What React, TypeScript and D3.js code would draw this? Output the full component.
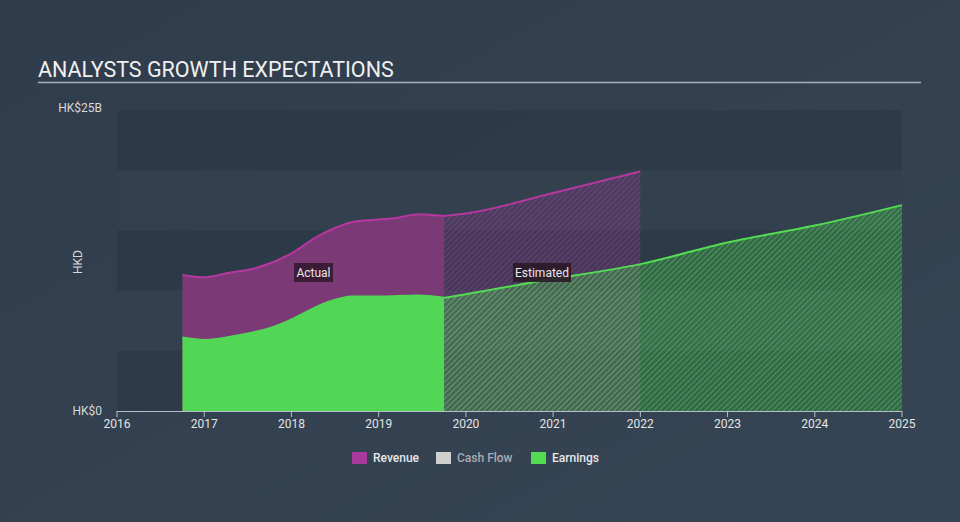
import React from "react";
import * as d3 from "d3";

const revActualYears = [2016.75, 2017.0, 2017.3, 2017.55, 2017.8, 2018.0, 2018.3, 2018.5, 2018.7, 2019.0, 2019.25, 2019.45, 2019.75];
const revActual = [11.3, 11.1, 11.5, 11.8, 12.4, 13.1, 14.5, 15.2, 15.7, 15.9, 16.1, 16.35, 16.2];
const earnActualYears = [2016.75, 2017.0, 2017.4, 2017.8, 2018.0, 2018.4, 2018.7, 2019.0, 2019.45, 2019.75];
const earnActual = [6.1, 5.9, 6.3, 7.0, 7.6, 9.0, 9.5, 9.5, 9.6, 9.4];
const revEstYears = [2019.75, 2020.0, 2021.0, 2022.0];
const revEst = [16.2, 16.4, 18.1, 19.9];
const earnEstYears = [2019.75, 2020.0, 2020.85, 2022.0, 2023.0, 2024.0, 2025.0];
const earnEst = [9.4, 9.7, 10.8, 12.2, 14.0, 15.4, 17.1];
const xTicks = [2016, 2017, 2018, 2019, 2020, 2021, 2022, 2023, 2024, 2025];
const yTickLabels = ["HK$0", "HK$25B"];
const legendItems = [
  { name: "Revenue", color: "#a83a9c", active: true },
  { name: "Cash Flow", color: "#cfcfcf", active: false },
  { name: "Earnings", color: "#53dc53", active: true },
];

const W = 960, H = 522;
const left = 117, right = 902, top = 110, bottom = 411;

export default function App() {
  const x = d3.scaleLinear().domain([2016, 2025]).range([left, right]);
  const y = d3.scaleLinear().domain([0, 25]).range([bottom, top]);
  const zip = (xs: number[], vs: number[]) => xs.map((v, i) => [v, vs[i]] as [number, number]);
  const area = d3.area<[number, number]>().x(d => x(d[0])).y0(y(0)).y1(d => y(d[1])).curve(d3.curveMonotoneX);
  const line = d3.line<[number, number]>().x(d => x(d[0])).y(d => y(d[1])).curve(d3.curveMonotoneX);
  const ra = zip(revActualYears, revActual);
  const ea = zip(earnActualYears, earnActual);
  const re = zip(revEstYears, revEst);
  const ee = zip(earnEstYears, earnEst);
  const bands = [0, 1, 2, 3, 4];
  const bandH = (bottom - top) / 5;
  const font = "Roboto, 'Open Sans', sans-serif";
  return (
    <svg width={W} height={H} style={{ position: "absolute", left: 0, top: 0 }} fontFamily={font}>
      <defs>
        <linearGradient id="bg" x1="0" y1="0" x2="1" y2="1">
          <stop offset="0" stopColor="#2f3c4b" />
          <stop offset="1" stopColor="#364555" />
        </linearGradient>
        <pattern id="hatchRev" patternUnits="userSpaceOnUse" width="4" height="4" patternTransform="rotate(45)">
          <rect width="4" height="4" fill="rgba(168,58,156,0.18)" />
          <line x1="0" y1="0" x2="0" y2="4" stroke="#a83a9c" strokeWidth="1.2" strokeOpacity="0.8" />
        </pattern>
        <pattern id="hatchEarn" patternUnits="userSpaceOnUse" width="4" height="4" patternTransform="rotate(45)">
          <rect width="4" height="4" fill="rgba(83,220,83,0.28)" />
          <line x1="0" y1="0" x2="0" y2="4" stroke="#53dc53" strokeWidth="1.1" strokeOpacity="0.85" />
        </pattern>
      </defs>
      <rect width={W} height={H} fill="url(#bg)" />
      <text x={38} y={77} fill="#f0f0f0" fontSize={21.5}>ANALYSTS GROWTH EXPECTATIONS</text>
      <line x1={38} x2={921} y1={82.5} y2={82.5} stroke="#a9b0b8" strokeWidth={1.5} />
      {bands.map(i => (
        <rect key={i} x={left} y={top + i * bandH} width={right - left} height={bandH}
          fill={i % 2 === 0 ? "#2c3846" : "#33414f"} opacity={0.8} />
      ))}
      <path d={area(ra) || ""} fill="#7b3a76" />
      <path d={line(ra) || ""} fill="none" stroke="#b5379f" strokeWidth={2} />
      <path d={area(re) || ""} fill="url(#hatchRev)" />
      <path d={line(re) || ""} fill="none" stroke="#b5379f" strokeWidth={2} />
      <path d={area(ea) || ""} fill="#52d655" />
      <path d={line(ea) || ""} fill="none" stroke="#52d655" strokeWidth={2} />
      <path d={area(ee) || ""} fill="url(#hatchEarn)" />
      <path d={line(ee) || ""} fill="none" stroke="#53dc53" strokeWidth={2} />
      <g>
        <rect x={294} y={263} width={39} height={19} fill="#3a1c36" />
        <text x={313.5} y={277} fill="#e8e8e8" fontSize={12} textAnchor="middle">Actual</text>
        <rect x={513} y={263} width={58} height={19} fill="#2a1a28" opacity={0.9} />
        <text x={542} y={277} fill="#e8e8e8" fontSize={12} textAnchor="middle">Estimated</text>
      </g>
      <line x1={left} x2={right} y1={bottom + 0.5} y2={bottom + 0.5} stroke="#b8bec6" strokeWidth={1} />
      {xTicks.map(t => (
        <g key={t}>
          <line x1={x(t)} x2={x(t)} y1={bottom} y2={bottom + 6} stroke="#b8bec6" />
          <text x={x(t)} y={428} fill="#e4e4e4" fontSize={12} textAnchor="middle">{t}</text>
        </g>
      ))}
      <text x={102} y={y(0) + 4} fill="#d8d8d8" fontSize={12} textAnchor="end">{yTickLabels[0]}</text>
      <text x={102} y={y(25) + 2} fill="#d8d8d8" fontSize={12} textAnchor="end">{yTickLabels[1]}</text>
      <text transform={`translate(82,262) rotate(-90)`} fill="#d8d8d8" fontSize={12} textAnchor="middle">HKD</text>
      {legendItems.map((it, i) => {
        const lx = [352, 436, 531][i];
        return (
          <g key={it.name}>
            <rect x={lx} y={452} width={15} height={12} fill={it.color} />
            <text x={lx + 21} y={462} fill={it.active ? "#e8e8e8" : "#a8adb3"} fontSize={12} fontWeight={500}>{it.name}</text>
          </g>
        );
      })}
    </svg>
  );
}
